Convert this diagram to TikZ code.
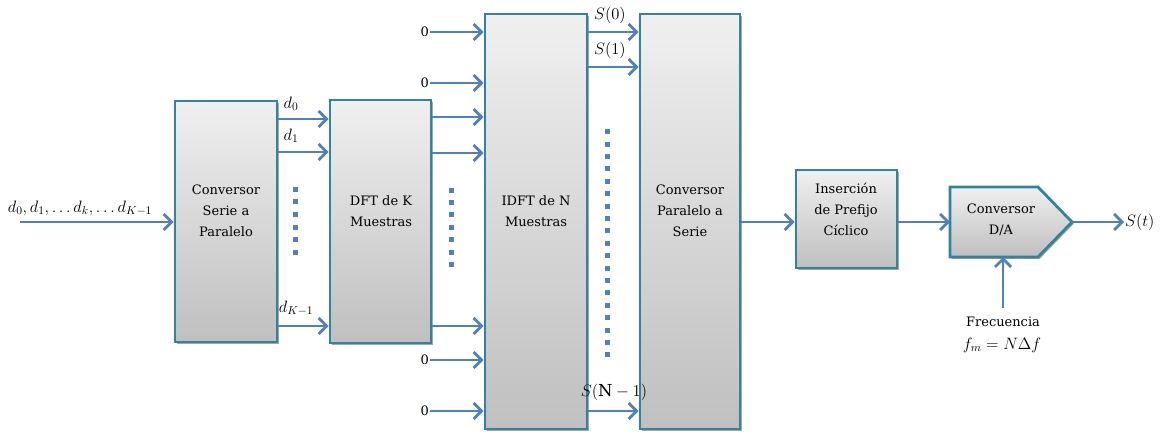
\RequirePackage{fix-cm}
\documentclass[tikz,border=0pt]{standalone}
\usepackage{fontspec}
\setmainfont{DejaVu Serif}
\usetikzlibrary{arrows.meta,shadows,calc}
\definecolor{edgeteal}{RGB}{49,132,155}
\definecolor{flowblue}{RGB}{79,129,189}
\tikzset{
  blockbox/.style={draw=edgeteal, line width=2.8pt, top color=gray!12, bottom color=gray!50,
    drop shadow={shadow xshift=1.8pt, shadow yshift=-1.8pt, opacity=0.35, fill=black},
    inner sep=0pt},
  blocktext/.style={align=center, inner sep=0pt, font=\fontsize{13}{21}\selectfont},
  flow/.style={draw=flowblue, line width=2.8pt, -{Straight Barb[length=8pt,width=16pt]}},
  mathlbl/.style={inner sep=1pt, font=\fontsize{16.5}{18}\selectfont},
  zerolbl/.style={inner sep=1pt, font=\fontsize{13}{15}\selectfont},
  dotsq/.style={fill=flowblue},
}
\begin{document}
\begin{tikzpicture}[x=1pt,y=-1pt]
\useasboundingbox (0,0) rectangle (1166,434);

% processing blocks
\node[blockbox, minimum width=102pt, minimum height=241pt] (sp)   at (226,221.5) {};
\node[blockbox, minimum width=101pt, minimum height=243pt] (dft)  at (380.5,221.5) {};
\node[blockbox, minimum width=102pt, minimum height=415pt] (idft) at (536,221.5) {};
\node[blockbox, minimum width=100pt, minimum height=415pt] (ps)   at (690,221.5) {};
\node[blockbox, minimum width=101pt, minimum height=98pt]  (ins)  at (846.5,219) {};

% D/A converter (pointed block)
\path[blockbox] (950,187) -- (1038,187) -- (1072,222) -- (1038,257) -- (950,257) -- cycle;
\coordinate (dain)  at (950,222);
\coordinate (daout) at (1072,222);
\coordinate (dabot) at (1003,257);

% block captions
\node[blocktext] (sptxt)   at (226,211)  {Conversor\\Serie a\\Paralelo};
\node[blocktext] (dfttxt)  at (381,211)  {DFT de K\\Muestras};
\node[blocktext] (idfttxt) at (536,211)  {IDFT de N\\Muestras};
\node[blocktext] (pstxt)   at (690,211)  {Conversor\\Paralelo a\\Serie};
\node[blocktext] (instxt)  at (846,209)  {Inserción\\de Prefijo\\Cíclico};
\node[blocktext] (da)      at (1001,220) {Conversor\\D/A};

% serial input
\coordinate (src) at (20,222);
\node[mathlbl] (srclbl) at (80,208) {$d_0, d_1, \ldots d_k, \ldots d_{K-1}$};
\draw[flow] (src) -- (sp.west |- src);

% serial-to-parallel outputs
\draw[flow] (sp.east |- 0,119) -- (dft.west |- 0,119);
\draw[flow] (sp.east |- 0,152) -- (dft.west |- 0,152);
\draw[flow] (sp.east |- 0,326) -- (dft.west |- 0,326);
\node[mathlbl] (ld0) at (291,104) {$d_0$};
\node[mathlbl] (ld1) at (291,136) {$d_1$};
\node[mathlbl] (ldk) at (296,308) {$d_{K-1}$};

% DFT outputs
\draw[flow] (dft.east |- 0,117) -- (idft.west |- 0,117);
\draw[flow] (dft.east |- 0,153) -- (idft.west |- 0,153);
\draw[flow] (dft.east |- 0,326) -- (idft.west |- 0,326);

% zero-padded IDFT inputs
\node[zerolbl, anchor=east] (z1) at (430,32)  {0};
\node[zerolbl, anchor=east] (z2) at (430,83)  {0};
\node[zerolbl, anchor=east] (z3) at (430,360) {0};
\node[zerolbl, anchor=east] (z4) at (430,411) {0};
\foreach \z in {z1,z2,z3,z4} \draw[flow] (\z.east) -- (idft.west |- \z.east);

% IDFT outputs
\draw[flow] (idft.east |- 0,32)  -- (ps.west |- 0,32);
\draw[flow] (idft.east |- 0,67)  -- (ps.west |- 0,67);
\draw[flow] (idft.east |- 0,411) -- (ps.west |- 0,411);
\node[mathlbl] (s0)  at (610,15)  {$S(0)$};
\node[mathlbl] (s1)  at (610,50)  {$S(1)$};
\node[mathlbl] (sn1) at (614,392) {$S(\mathrm{N}-1)$};

% ellipsis dots
\foreach \k in {0,...,5}  \fill[dotsq] (292.5,{186.8+12.6*\k}) rectangle ++(5,5);
\foreach \k in {0,...,6}  \fill[dotsq] (448.5,{187.5+12.4*\k}) rectangle ++(5,5);
\foreach \k in {0,...,18} \fill[dotsq] (604.5,{129.2+12.4*\k}) rectangle ++(5,5);

% serial chain
\draw[flow] (ps.east |- 0,222) -- (ins.west |- 0,222);
\draw[flow] (ins.east |- 0,222) -- (dain);
\node[mathlbl, anchor=west] (st) at (1124,222) {$S(t)$};
\draw[flow] (daout) -- (st.west);

% sampling frequency
\node[blocktext] (freq) at (1003,322) {Frecuencia};
\node[mathlbl] (fm) at (1002,345) {$f_m = N\Delta f$};
\draw[flow] (freq.north |- 0,308) -- (dabot);
\end{tikzpicture}
\end{document}
